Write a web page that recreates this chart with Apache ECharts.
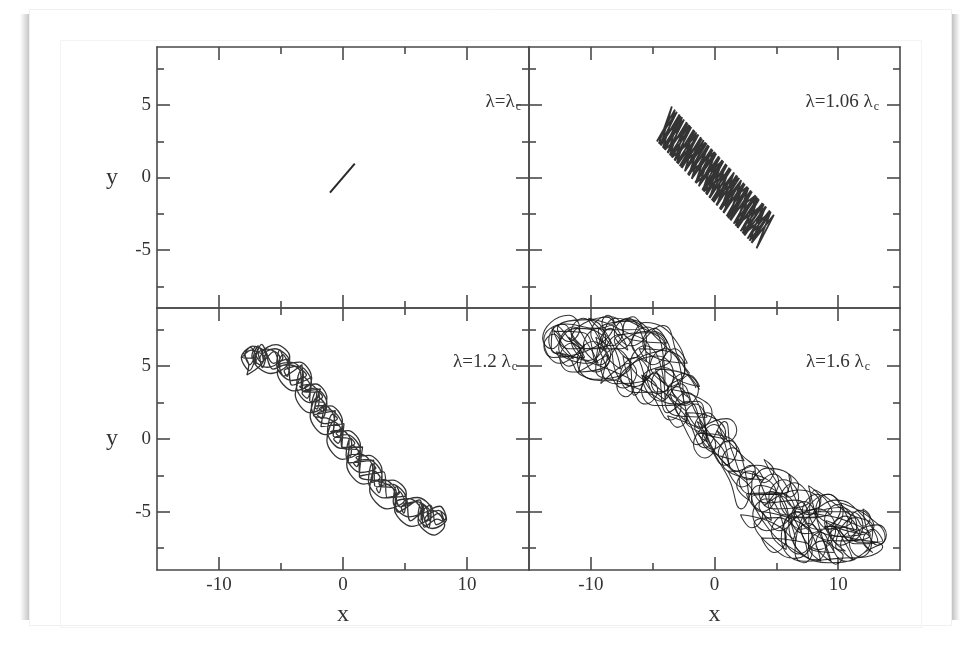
<!DOCTYPE html>
<html>
<head>
<meta charset="utf-8">
<script src="https://cdn.jsdelivr.net/npm/echarts@6/dist/echarts.min.js"></script>
<style>
html,body{margin:0;padding:0;background:#fff;}
#chart{width:963px;height:648px;}
</style>
</head>
<body>
<div id="chart"></div>
<script>
// ---------- data ----------
const X_RANGE = [-15, 15];
const Y_RANGE = [-9, 9];
const X_MAJOR = [-10, 0, 10];
const X_MINOR = [-5, 5];
const Y_MAJOR = [-5, 0, 5];
const Y_MINOR = [-7.5, -2.5, 2.5, 7.5];
const PANEL_LABELS = ['λ=λ', 'λ=1.06 λ', 'λ=1.2 λ', 'λ=1.6 λ'];
const PANEL_SUB = 'c';
const X_NAME = 'x';
const Y_NAME = 'y';

// λ = λc
const TL_PATH = [[-1.05, -1.05], [0.95, 0.95]];

// λ = 1.06 λc (band of back-and-forth strokes)
const TR_PATH = [
  [-4.66,2.49],[-3.20,4.68],[-4.18,2.05],[-2.62,4.15],[-3.61,1.53],[-2.05,3.63],[-3.05,1.02],[-1.47,3.10],
  [-2.40,0.43],[-0.89,2.58],[-1.84,-0.09],[-0.23,1.98],[-1.27,-0.61],[0.35,1.46],[-0.63,-1.20],[0.92,0.94],
  [-0.07,-1.71],[1.58,0.34],[0.50,-2.23],[2.16,-0.19],[1.14,-2.82],[2.74,-0.71],[1.71,-3.33],[3.40,-1.31],
  [2.27,-3.85],[3.98,-1.83],[2.84,-4.36],[4.55,-2.36],[3.40,-4.88],[4.80,-2.58],
  [4.68,-2.47],[3.00,-4.51],[4.14,-1.98],[2.43,-4.00],[3.52,-1.42],[1.87,-3.48],[2.94,-0.90],[1.30,-2.96],
  [2.37,-0.37],[0.74,-2.45],[1.79,0.15],[0.18,-1.93],[1.21,0.67],[-0.39,-1.42],[0.63,1.20],[-0.95,-0.90],
  [0.06,1.72],[-1.52,-0.38],[-0.52,2.24],[-2.08,0.13],[-1.10,2.77],[-2.64,0.65],[-1.68,3.29],[-3.21,1.16],
  [-2.25,3.82],[-3.77,1.68],[-2.83,4.34],[-4.34,2.20],[-3.45,4.90],
  [-4.50,2.34],[-2.62,4.15],[-4.02,1.90],[-1.96,3.55],[-3.45,1.38],[-1.30,2.96],[-2.81,0.79],[-0.64,2.36],
  [-2.16,0.21],[0.02,1.76],[-1.52,-0.38],[0.68,1.16],[-0.87,-0.97],[1.34,0.56],[-0.23,-1.56],[2.00,-0.04],
  [0.42,-2.15],[2.66,-0.64],[1.06,-2.74],[3.32,-1.23],[1.71,-3.33],[3.98,-1.83],[2.35,-3.92],[4.55,-2.36],[3.00,-4.51],
  [4.47,-2.28],[2.67,-4.22],[4.18,-2.02],[2.39,-3.96],[3.89,-1.76],[2.11,-3.70],[3.60,-1.50],[1.83,-3.44],
  [3.32,-1.23],[1.55,-3.18],[3.03,-0.97],[1.26,-2.93],[2.74,-0.71],[0.98,-2.67],[2.45,-0.45],[0.70,-2.41],
  [2.16,-0.19],[0.42,-2.15],[1.87,0.08],[0.14,-1.90],[1.58,0.34],[-0.15,-1.64],[1.29,0.60],[-0.43,-1.38],
  [1.01,0.86],[-0.71,-1.12],[0.72,1.12],[-0.99,-0.86],[0.43,1.38],[-1.27,-0.61],[0.14,1.65],[-1.56,-0.35],
  [-0.15,1.91],[-1.84,-0.09],[-0.44,2.17],[-2.12,0.17],[-0.73,2.43],[-2.40,0.43],[-1.02,2.69],[-2.69,0.68],
  [-1.30,2.96],[-2.97,0.94],[-1.59,3.22],[-3.25,1.20],[-1.88,3.48],[-3.53,1.46],[-2.17,3.74],[-3.81,1.72],
  [-2.46,4.00],[-4.10,1.97],[-2.75,4.26],[-4.38,2.23],[-3.04,4.53],[-4.66,2.49]
];

// λ = 1.2 λc (tangled tube)
const BL_PATH = [
  [-6.75,5.5],[-7.05,6.37],[-7.35,5.7],[-6.1,4.93],[-4.85,5.6],[-5.1,6.13],[-5.35,5.1],[-4.15,4.02],[-2.95,4.4],[-3.35,4.75],
  [-3.75,3.6],[-2.7,2.5],[-1.65,2.9],[-2.1,3.3],[-2.55,2.2],[-1.5,1.05],[-0.45,1.4],[-0.85,1.7],[-1.25,0.5],[-0.15,-0.65],
  [0.95,-0.3],[0.6,0.05],[0.25,-1.1],[1.45,-2.3],[2.65,-2.0],[2.35,-1.7],[2.05,-2.9],[3.3,-4.05],[4.55,-3.7],[4.3,-3.25],
  [4.05,-4.3],[5.3,-5.35],[6.55,-4.9],[6.3,-4.35],[6.05,-5.3],[7.2,-6.15],[8.35,-5.5],
  [7.8,-4.62],[6.8,-5.12],[7.0,-5.62],[7.1,-4.82],[6.0,-4.02],[4.9,-4.32],[5.0,-4.62],[5.1,-3.72],[4.0,-2.82],[2.9,-3.02],
  [3.0,-3.22],[3.15,-2.17],[2.1,-1.12],[1.05,-1.27],[1.2,-1.42],[1.4,-0.42],[0.4,0.58],[-0.55,0.38],[-0.3,0.18],[-0.05,1.23],
  [-1.0,2.28],[-1.9,2.08],[-1.6,1.88],[-1.3,2.83],[-2.2,3.78],[-3.1,3.53],[-2.8,3.28],[-2.55,4.28],[-3.5,5.28],[-4.55,5.05],
  [-4.4,4.78],[-4.3,5.66],[-5.4,6.48],[-6.5,5.96],[-6.4,5.38],[-6.25,5.9],[-7.3,6.38],[-7.9,5.78],[-7.6,5.1],
  [-7.75,4.4],[-6.4,5.42],[-6.85,6.4],[-7.25,5.48],[-5.85,4.5],[-4.45,5.18],[-4.85,5.8],[-5.3,4.57],[-3.95,3.3],[-2.7,3.8],
  [-3.25,4.3],[-3.85,3.05],[-2.65,1.8],[-1.45,2.35],[-2.05,2.9],[-2.65,1.6],[-1.45,0.3],[-0.2,0.75],[-0.75,1.2],[-1.3,-0.1],
  [-0.05,-1.4],[1.25,-0.9],[0.75,-0.4],[0.3,-1.75],[1.65,-3.1],[3.0,-2.65],[2.55,-2.2],[2.15,-3.5],[3.55,-4.8],[4.95,-4.2],
  [4.55,-3.6],[4.15,-4.8],[5.55,-6.0],[6.95,-5.3],[6.55,-4.6],[6.05,-5.6],[7.35,-6.6],[8.2,-5.9],[7.9,-5.0],
  [8.1,-5.5],[7.2,-4.9],[6.3,-5.3],[6.3,-5.6],[6.3,-4.9],[5.3,-4.1],[4.3,-4.3],[4.3,-4.5],[4.3,-3.7],[3.3,-2.8],
  [2.3,-2.9],[2.35,-2.95],[2.4,-2.0],[1.45,-1.05],[0.5,-1.1],[0.6,-1.2],[0.7,-0.3],[-0.15,0.6],[-1.0,0.5],[-0.85,0.45],
  [-0.7,1.4],[-1.5,2.3],[-2.3,2.2],[-2.1,2.05],[-1.9,2.9],[-2.7,3.75],[-3.5,3.6],[-3.35,3.5],[-3.2,4.4],[-4.15,5.27],
  [-5.1,5.1],[-5.1,4.88],[-5.1,5.6],[-6.1,6.18],[-7.1,5.7],[-7.05,5.12],[-7.0,5.5],[-8.1,5.6],
  [-7.4,6.1],[-6.25,5.52],[-6.5,4.9],[-6.7,5.58],[-5.5,6.2],[-4.3,5.28],[-4.5,4.3],[-4.75,4.67],[-3.6,5.0],[-2.55,3.9],
  [-2.9,2.8],[-3.3,3.15],[-2.3,3.5],[-1.3,2.45],[-1.7,1.4],[-2.1,1.7],[-1.1,2.0],[-0.05,0.85],[-0.4,-0.3],[-0.75,0.0],
  [0.3,0.3],[1.4,-0.8],[1.1,-1.9],[0.85,-1.65],[2.0,-1.4],[3.15,-2.55],[2.9,-3.7],[2.7,-3.4],[3.9,-3.1],[5.1,-4.1],
  [4.9,-5.1],[4.7,-4.7],[5.9,-4.3],[7.1,-5.2],[6.9,-6.1],[6.6,-5.5],[7.7,-4.9],[8.3,-5.4],
  [7.52,-5.89],[7.04,-4.54],[5.44,-5.62],[4.98,-3.94],[3.6,-4.05],[3.28,-2.26],[1.32,-2.55],[1.29,-0.82],[-0.09,-0.58],[0.08,1.05],
  [-1.78,0.85],[-1.51,2.48],[-2.69,2.62],[-2.52,4.24],[-4.1,3.7],[-4.52,5.49],[-5.62,5.2],[-6.56,6.5],[-7.54,4.7],[-8.2,5.6],
  [-7.46,6.3],[-6.62,5.3],[-5.58,6.0],[-4.76,4.32],[-3.3,5.1],[-3.24,3.28],[-2.11,3.18],[-2.38,1.65],[-0.62,1.95],[-0.79,0.22],
  [0.49,-0.02],[0.42,-1.65],[2.48,-1.45],[2.56,-3.22],[4.0,-3.35],[4.44,-5.02],[6.16,-4.18],[6.68,-5.68],[7.68,-5.11],[8.1,-5.7],
  [7.6,-5.5],[6.56,-6.06],[6.16,-4.18],[4.62,-4.66],[4.0,-3.35],[2.8,-2.9],[1.32,-2.55],[1.58,-0.55],[-0.09,-0.58],[-0.21,0.78],
  [-1.2,1.4],[-2.38,1.65],[-1.82,3.45],[-3.24,3.28],[-3.5,4.75],[-4.6,5.1],[-5.64,4.8],[-6.56,6.5],[-7.52,5.1],[-8.0,5.9]
];

// λ = 1.6 λc (two-lobed tangle), long excursions
const BR_PATH = [
  [-2,4.5],[-4.5,6.8],[-7,8.2],[-9.5,7.6],[-12,7.9],[-13.8,6.8],[-12.5,5.2],[-10.5,6.5],[-11,4.6],[-8.6,5.8],
  [-9.2,3.8],[-7,5.2],[-6.5,3],[-5.2,6],[-7.8,7.6],[-10.2,8.3],[-8.4,6.6],[-11.8,6.2],[-13,7.4],[-10.6,7.3],
  [-9.3,5.1],[-7.2,6.9],[-5,7.4],[-3.5,5.6],[-5.8,4.2],[-4.3,2.6],[-2.8,3.8],[-1.5,1.8],[-0.5,0.5],[0.6,-0.6],[1.8,-2.2],
  [3.4,-1.8],[5.2,-3],[4,-4.6],[6.8,-3.5],[8.5,-4.4],[7,-6.2],[5.2,-5.4],[3.2,-5.8],[4.6,-7.4],[6.6,-8.2],
  [8.7,-7],[10.6,-8.4],[12.5,-7.6],[13.8,-6.8],[12.4,-5.3],[10.2,-4.4],[11.3,-6.3],[9,-5.6],[9.7,-7.8],[7.6,-7.4],
  [8.1,-3.5],[10.8,-5.1],[12.8,-6.1],[11.8,-8],[9.2,-8.5],[6.2,-6.8],[5.8,-4.6],[3.6,-3.2],[2.2,-4.8],[1.2,-2.8],[0,-1],[-0.8,0.4],
  [-2.2,2.6],[-3.8,1.8],[-4.8,4.6],[-6.4,3.6],[-7.8,4.3],[-8.8,6.9],[-11.2,7.6],[-12.6,6.2],[-10.2,5.2],[-8,8.3],
  [-6.2,7.8],[-4,6.4],[-6,5.6],[-8.6,4],[-10.8,4.4],[-11.8,5.6],[-13.2,6.2],[-12.8,7.8],[-10.4,6.2],[-7.6,6.2],
  [-5.6,8],[-3,6.6],[-2.4,4.6],[-3.8,3.4],[-2.2,1.4],[-0.8,-0.6],[0.8,1.2],[1.4,-0.8],
  [2.8,-2.8],[4.2,-2],[6.2,-2.8],[5.8,-4],[7.6,-4.9],[9.8,-4.2],[11.9,-5.2],[13.2,-7],[11.4,-7.2],[9.8,-6.2],
  [8.3,-8.3],[6.4,-7.6],[4.4,-6.2],[3,-4],[4.8,-3.8],[7.8,-6.4],[10.2,-7],[12.6,-6.6],[10.6,-5.6],[8.6,-5.2],
  [6.8,-5],[5.4,-6.8],[7.2,-8.4],[10,-8.2],[12.2,-8.1],[13.6,-7.4],[11,-6.8],[8.6,-6.4],[6.6,-4.2],[4.2,-4.4],
  [2.6,-3],[1,-1.8],[-0.4,-0.2],[-1.4,2.6],[-3.2,2.4],[-5.4,3.2],[-7.2,3.8],[-9.6,4.8],[-8.4,7.6],[-6.8,6.4],
  [-4.2,7.8],[-2.8,5.4],[-1.2,3.4]
];

// λ = 1.6 λc, small loops (counter-clockwise run)
const BR_LOOPS = [
  [-1.5,3.5],[-2.5,4.5],[-3.5,3.5],[-2.5,2.5],[-2.8,5],[-4,6.2],[-5.2,5],[-4,3.8],
  [-4.3,6.5],[-5.5,7.7],[-6.7,6.5],[-5.5,5.3],[-5.9,7.2],[-7,8.3],[-8.1,7.2],[-7,6.1],
  [-7.6,7.2],[-8.8,8.4],[-10,7.2],[-8.8,6.0],[-9.6,7.3],[-10.6,8.3],[-11.6,7.3],[-10.6,6.3],
  [-11.2,6.8],[-12.3,7.9],[-13.4,6.8],[-12.3,5.7],[-10.5,5.6],[-11.5,6.6],[-12.5,5.6],[-11.5,4.6],
  [-8.5,5.4],[-9.8,6.7],[-11.1,5.4],[-9.8,4.1],[-6.8,5],[-8,6.2],[-9.2,5],[-8,3.8],
  [-5.2,4.4],[-6.4,5.6],[-7.6,4.4],[-6.4,3.2],[-3.7,3.4],[-4.8,4.5],[-5.9,3.4],[-4.8,2.3],
  [-2,2.6],[-3,3.6],[-4,2.6],[-3,1.6],[-0.6,1.5],[-1.5,2.4],[-2.4,1.5],[-1.5,0.6],
  [1,0],[0,1],[-1,0],[0,-1],[2.4,-1.5],[1.5,-0.6],[0.6,-1.5],[1.5,-2.4],
  [4,-2.8],[3,-1.8],[2,-2.8],[3,-3.8],[6,-3.6],[4.8,-2.4],[3.6,-3.6],[4.8,-4.8],
  [7.7,-4.2],[6.5,-3.0],[5.3,-4.2],[6.5,-5.4],[9.5,-5],[8.3,-3.8],[7.1,-5],[8.3,-6.2],
  [11.1,-5.6],[10,-4.5],[8.9,-5.6],[10,-6.7],[12.9,-6],[11.8,-4.9],[10.7,-6],[11.8,-7.1],
  [13.6,-7],[12.8,-6.2],[12,-7],[12.8,-7.8],[12.2,-7.3],[11.2,-6.3],[10.2,-7.3],[11.2,-8.3],
  [10.6,-7.2],[9.4,-6.0],[8.2,-7.2],[9.4,-8.4],[8.8,-7],[7.6,-5.8],[6.4,-7],[7.6,-8.2],
  [7,-6.4],[5.8,-5.2],[4.6,-6.4],[5.8,-7.6],[5.3,-5.2],[4.2,-4.1],[3.1,-5.2],[4.2,-6.3],
  [6.8,-4],[5.6,-2.8],[4.4,-4],[5.6,-5.2],[8.4,-5.4],[7.3,-4.3],[6.2,-5.4],[7.3,-6.5],
  [10.2,-4.8],[9.2,-3.8],[8.2,-4.8],[9.2,-5.8],[11.8,-6.5],[10.6,-5.3],[9.4,-6.5],[10.6,-7.7],
  [9.6,-7.4],[8.6,-6.4],[7.6,-7.4],[8.6,-8.4],[7.6,-6],[6.6,-5],[5.6,-6],[6.6,-7],
  [5.6,-4.6],[4.6,-3.6],[3.6,-4.6],[4.6,-5.6],[3.8,-3.2],[2.8,-2.2],[1.8,-3.2],[2.8,-4.2],
  [2.1,-1],[1.2,-0.1],[0.3,-1],[1.2,-1.9],[0.4,0.8],[-0.6,1.8],[-1.6,0.8],[-0.6,-0.2],
  [-1.2,2.2],[-2.2,3.2],[-3.2,2.2],[-2.2,1.2],[-2.9,3.8],[-4,4.9],[-5.1,3.8],[-4,2.7],
  [-4.4,5.2],[-5.6,6.4],[-6.8,5.2],[-5.6,4.0],[-6.4,6],[-7.6,7.2],[-8.8,6],[-7.6,4.8],
  [-8.2,6.4],[-9.4,7.6],[-10.6,6.4],[-9.4,5.2],[-10.3,6.6],[-11.4,7.7],[-12.5,6.6],[-11.4,5.5],
  [-12.2,6.4],[-13,7.2],[-13.8,6.4],[-13,5.6],[-8.1,8],[-8.6,8.5],[-9.1,8],[-8.6,7.5],
  [-5.8,7.6],[-6.6,8.4],[-7.4,7.6],[-6.6,6.8],[-3.8,6.6],[-4.8,7.6],[-5.8,6.6],[-4.8,5.6],
  [-2.2,5.2],[-3.2,6.2],[-4.2,5.2],[-3.2,4.2],[-1.2,3.6],[-2,4.4],[-2.8,3.6],[-2,2.8]
];

// λ = 1.6 λc, small loops (clockwise run)
const BR_LOOPS_CW = [
  [-13.2,7.6],[-12.5,6.9],[-13.2,6.2],[-13.9,6.9],[-11.8,8.5],[-10.9,7.6],[-11.8,6.7],[-12.7,7.6],
  [-10.2,8.2],[-8.8,6.8],[-10.2,5.4],[-11.6,6.8],[-8.4,8.4],[-7.4,7.4],[-8.4,6.4],[-9.4,7.4],
  [-6.8,8.1],[-5.5,6.8],[-6.8,5.5],[-8.1,6.8],[-5,7.3],[-3.9,6.2],[-5,5.1],[-6.1,6.2],
  [-3.6,6.0],[-2.4,4.8],[-3.6,3.6],[-4.8,4.8],[-2.4,4.5],[-1.3,3.4],[-2.4,2.3],[-3.5,3.4],
  [-1.2,2.8],[-0.2,1.8],[-1.2,0.8],[-2.2,1.8],[-0.2,1.5],[0.9,0.4],[-0.2,-0.7],[-1.3,0.4],
  [0.8,0.2],[1.8,-0.8],[0.8,-1.8],[-0.2,-0.8],[-1.4,1.2],[-0.6,0.4],[-1.4,-0.4],[-2.2,0.4],
  [-3.6,3.1],[-2.7,2.2],[-3.6,1.3],[-4.5,2.2],[-5.6,4.4],[-4.6,3.4],[-5.6,2.4],[-6.6,3.4],
  [-7.4,5.7],[-6.3,4.6],[-7.4,3.5],[-8.5,4.6],[-9.6,7.0],[-8.4,5.8],[-9.6,4.6],[-10.8,5.8],
  [-11.8,7.0],[-10.8,6.0],[-11.8,5.0],[-12.8,6.0],[-7.2,4.3],[-6.5,3.6],[-7.2,2.9],[-7.9,3.6],
  [-4.6,5.7],[-3.3,4.4],[-4.6,3.1],[-5.9,4.4],[-3,2.4],[-2.2,1.6],[-3,0.8],[-3.8,1.6],
  [-0.8,0.5],[0.1,-0.4],[-0.8,-1.3],[-1.7,-0.4],[1,1.4],[1.8,0.6],[1,-0.2],[0.2,0.6],
  [2.2,-1.1],[3.3,-2.2],[2.2,-3.3],[1.1,-2.2],[3.8,-2.6],[5,-3.8],[3.8,-5],[2.6,-3.8],
  [5.2,-3.7],[6.5,-5],[5.2,-6.3],[3.9,-5],[6.8,-5.7],[7.9,-6.8],[6.8,-7.9],[5.7,-6.8],
  [8.4,-4.8],[9.8,-6.2],[8.4,-7.6],[7,-6.2],[10.2,-4.7],[11.5,-6],[10.2,-7.3],[8.9,-6],
  [11.8,-6.3],[12.7,-7.2],[11.8,-8.1],[10.9,-7.2],[13.2,-5.9],[13.9,-6.6],[13.2,-7.3],[12.5,-6.6],
  [12,-4.8],[12.6,-5.4],[12,-6],[11.4,-5.4],[9.8,-7.4],[10.4,-8],[9.8,-8.6],[9.2,-8],
  [7.6,-3.2],[8.6,-4.2],[7.6,-5.2],[6.6,-4.2],[6,-2.4],[6.8,-3.2],[6,-4],[5.2,-3.2],
  [4,-1.4],[4.8,-2.2],[4,-3],[3.2,-2.2],[3,-4.3],[3.9,-5.2],[3,-6.1],[2.1,-5.2],
  [4.8,-5.8],[5.8,-6.8],[4.8,-7.8],[3.8,-6.8],[7.2,-7.1],[7.9,-7.8],[7.2,-8.5],[6.5,-7.8],
  [9.2,-3.8],[10.4,-5],[9.2,-6.2],[8,-5],[11,-5],[12,-6],[11,-7],[10,-6]
];

// ---------- chart ----------
const FONT = "'Liberation Serif','Times New Roman',serif";
const AX = '#4a4a4a';
const TXT = '#333';
const GRIDS = [
  {left:157, top:47, width:372, height:261},
  {left:529, top:47, width:371, height:261},
  {left:157, top:308, width:372, height:262},
  {left:529, top:308, width:371, height:262}
];
const PANEL_SERIES = [[TL_PATH], [TR_PATH], [BL_PATH], [BR_PATH, BR_LOOPS, BR_LOOPS_CW]];
const PANEL_WIDTH = [2, 1.8, 1.3, 1.05];
const PANEL_SMOOTH = [false, false, 0.35, 0.5];

const xAxes = [], yAxes = [], series = [];
GRIDS.forEach((g, i) => {
  const bottomRow = i >= 2, leftCol = i % 2 === 0;
  const lineStyle = {color: AX, width: 1.6};
  const labelStyle = {color: TXT, fontSize: 19, fontFamily: FONT};
  ['bottom', 'top'].forEach(pos => {
    xAxes.push({
      type: 'value', gridIndex: i, position: pos, min: X_RANGE[0], max: X_RANGE[1],
      axisLine: {show: true, onZero: false, lineStyle},
      axisTick: {show: true, inside: true, length: 13, customValues: X_MAJOR, lineStyle},
      axisLabel: {show: pos === 'bottom' && bottomRow, customValues: X_MAJOR, margin: 6, ...labelStyle},
      splitLine: {show: false},
      name: (pos === 'bottom' && bottomRow) ? X_NAME : '',
      nameLocation: 'middle', nameGap: 45,
      nameTextStyle: {fontSize: 24, fontFamily: FONT, color: TXT, verticalAlign: 'middle'}
    });
    xAxes.push({
      type: 'value', gridIndex: i, position: pos, min: X_RANGE[0], max: X_RANGE[1],
      axisLine: {show: false, onZero: false},
      axisTick: {show: true, inside: true, length: 7, customValues: X_MINOR, lineStyle},
      axisLabel: {show: false}, splitLine: {show: false}
    });
  });
  ['left', 'right'].forEach(pos => {
    yAxes.push({
      type: 'value', gridIndex: i, position: pos, min: Y_RANGE[0], max: Y_RANGE[1],
      axisLine: {show: true, onZero: false, lineStyle},
      axisTick: {show: true, inside: true, length: 13, customValues: Y_MAJOR, lineStyle},
      axisLabel: {show: pos === 'left' && leftCol, customValues: Y_MAJOR, margin: 6, ...labelStyle},
      splitLine: {show: false},
      name: (pos === 'left' && leftCol) ? Y_NAME : '',
      nameLocation: 'middle', nameGap: 45, nameRotate: 0,
      nameTextStyle: {fontSize: 24, fontFamily: FONT, color: TXT, align: 'center', verticalAlign: 'middle', padding: [0, 0, 10, 0]}
    });
    yAxes.push({
      type: 'value', gridIndex: i, position: pos, min: Y_RANGE[0], max: Y_RANGE[1],
      axisLine: {show: false, onZero: false},
      axisTick: {show: true, inside: true, length: 7, customValues: Y_MINOR, lineStyle},
      axisLabel: {show: false}, splitLine: {show: false}
    });
  });
  PANEL_SERIES[i].forEach(path => {
    series.push({
      type: 'line', xAxisIndex: i * 4, yAxisIndex: i * 4, data: path,
      showSymbol: false, symbol: 'none',
      smooth: PANEL_SMOOTH[i],
      lineStyle: {color: '#111', width: PANEL_WIDTH[i], opacity: i === 0 ? 0.9 : 0.85},
      silent: true, clip: true
    });
  });
});

const LABEL_POS = [[521, 102], [879, 102], [517, 362], [870, 362]];
const graphics = [
  {type: 'rect', z: -10, shape: {x: 20, y: 14, width: 9, height: 606},
   style: {fill: new echarts.graphic.LinearGradient(0, 0, 1, 0, [{offset: 0, color: 'rgba(0,0,0,0)'}, {offset: 1, color: 'rgba(0,0,0,0.22)'}])}},
  {type: 'rect', z: -10, shape: {x: 952, y: 14, width: 8, height: 606},
   style: {fill: new echarts.graphic.LinearGradient(0, 0, 1, 0, [{offset: 0, color: 'rgba(0,0,0,0.24)'}, {offset: 1, color: 'rgba(0,0,0,0)'}])}},
  {type: 'rect', z: -10, shape: {x: 29.5, y: 9.5, width: 922, height: 616}, style: {fill: null, stroke: '#f0f0f0', lineWidth: 1}},
  {type: 'rect', z: -10, shape: {x: 60.5, y: 40.5, width: 861, height: 587}, style: {fill: null, stroke: '#f3f3f3', lineWidth: 1}}
];
PANEL_LABELS.forEach((t, i) => {
  graphics.push({
    type: 'text', z: 10, x: LABEL_POS[i][0], y: LABEL_POS[i][1],
    style: {
      text: '{a|' + t + '}{b|' + PANEL_SUB + '}',
      align: 'right', verticalAlign: 'middle', textAlign: 'right', textVerticalAlign: 'middle',
      rich: {
        a: {fontSize: 19, fontFamily: FONT, fill: TXT, color: TXT},
        b: {fontSize: 12, fontFamily: FONT, fill: TXT, color: TXT, padding: [10, 0, 0, 1]}
      }
    }
  });
});

const chart = echarts.init(document.getElementById('chart'), null, {renderer: 'canvas'});
chart.setOption({
  animation: false,
  backgroundColor: '#fff',
  grid: GRIDS.map(g => ({...g, containLabel: false})),
  xAxis: xAxes,
  yAxis: yAxes,
  series: series,
  graphic: graphics
});
</script>
</body>
</html>
